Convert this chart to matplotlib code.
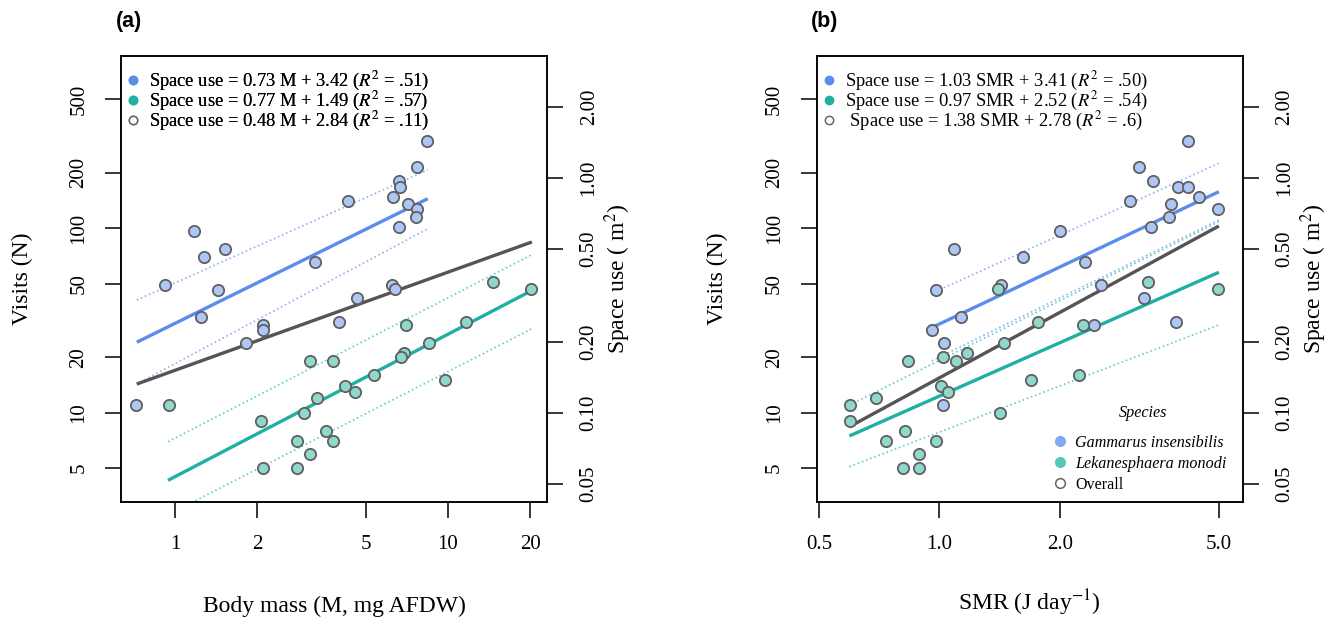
import matplotlib
matplotlib.use('Agg')
import matplotlib.pyplot as plt
from matplotlib.lines import Line2D

plt.rcParams['font.family'] = ['Liberation Serif', 'DejaVu Serif']
plt.rcParams['mathtext.fontset'] = 'stix'

# ---- datos ----
# (a) masa corporal vs visitas
mass_gam = [1.17, 1.27, 1.52, 0.92, 1.43, 1.24, 3.25, 2.10, 2.09, 1.82, 0.72, 8.38, 7.72,
            6.60, 6.65, 4.29, 6.27, 7.14, 7.72, 7.65, 6.63, 6.22, 6.38, 4.65, 3.98]
visits_gam_a = [97, 70, 77, 49, 46, 33, 66, 30, 28, 24, 11, 296, 215,
                181, 167, 140, 148, 136, 127, 115, 101, 49, 47, 42, 31]
mass_lek = [0.95, 3.13, 3.79, 3.31, 2.96, 2.06, 3.58, 2.79, 3.79, 3.12, 2.10, 2.80,
            14.6, 20.2, 11.6, 7.03, 8.52, 6.88, 6.71, 5.35, 4.18, 4.56, 9.75]
visits_lek_a = [11, 19, 19, 12, 10, 9, 8, 7, 7, 6, 5, 5,
                51, 47, 31, 30, 24, 21, 20, 16, 14, 13, 15]

# (b) SMR vs visitas
smr_gam = [1.09, 1.62, 0.98, 1.13, 0.96, 1.03, 1.02, 1.43, 4.18, 3.15, 3.43, 3.95, 4.19,
           2.99, 3.79, 4.47, 4.98, 3.76, 3.38, 2.00, 2.32, 2.54, 3.25, 2.44, 3.91]
visits_gam_b = [77, 70, 46, 33, 28, 24, 11, 49, 296, 215, 181, 167, 167,
                140, 136, 148, 127, 115, 101, 97, 66, 49, 42, 30, 31]
smr_lek = [1.40, 1.45, 0.835, 1.02, 1.10, 1.17, 1.01, 1.05, 0.695, 0.599, 0.597, 0.822,
           0.735, 0.983, 0.888, 0.813, 0.888, 1.42, 3.33, 4.97, 1.77, 2.29, 1.70, 2.23]
visits_lek_b = [47, 24, 19, 20, 19, 21, 14, 13, 12, 11, 9, 8,
                7, 7, 6, 5, 5, 10, 51, 47, 31, 30, 15, 16]

# rectas de regresión e intervalos (extremos)
fit_a_gam_x = [0.722, 8.43]
fit_a_gam_y = [24.1, 144.5]
ci_a_gam_hi = [40.8, 207]
ci_a_gam_lo = [14.3, 99.3]
fit_a_lek_x = [0.94, 20.2]
fit_a_lek_y = [4.30, 45.8]
ci_a_lek_hi = [6.96, 71.6]
ci_a_lek_lo = [2.80, 28.4]
fit_a_all_x = [0.722, 20.3]
fit_a_all_y = [14.3, 84.2]

fit_b_gam_x = [0.957, 5.0]
fit_b_gam_y = [28.9, 157.7]
ci_b_gam_hi = [44.4, 225]
ci_b_gam_lo = [19.1, 110.8]
fit_b_lek_x = [0.596, 5.0]
fit_b_lek_y = [7.48, 57.7]
ci_b_lek_hi = [11.0, 108.4]
ci_b_lek_lo = [5.10, 29.9]
fit_b_all_x = [0.596, 5.0]
fit_b_all_y = [8.39, 102.8]

visit_ticks = [5, 10, 20, 50, 100, 200, 500]
space_ticks = [0.05, 0.10, 0.20, 0.50, 1.00, 2.00]
space_labels = ['0.05', '0.10', '0.20', '0.50', '1.00', '2.00']
mass_ticks = [1, 2, 5, 10, 20]
smr_ticks = [0.5, 1.0, 2.0, 5.0]

eq_a = [r'Space use = 0.73 M + 3.42 ($R^2$ = .51)',
        r'Space use = 0.77 M + 1.49 ($R^2$ = .57)',
        r'Space use = 0.48 M + 2.84 ($R^2$ = .11)']
eq_b = [r'Space use = 1.03 SMR + 3.41 ($R^2$ = .50)',
        r'Space use = 0.97 SMR + 2.52 ($R^2$ = .54)',
        r' Space use = 1.38 SMR + 2.78 ($R^2$ = .6)']

# colores
c_gam = '#5b8def'
c_lek = '#1fb0a3'
c_all = '#555555'
f_gam = '#aec6f5'
f_lek = '#8fd8cc'
ci_gam = '#8fb2f2'
ci_lek = '#62cfc6'

W, H = 1343, 618
fig = plt.figure(figsize=(W / 100, H / 100), dpi=100)


def px(x0, y0, w, h):
    return [x0 / W, 1 - (y0 + h) / H, w / W, h / H]


ax_a = fig.add_axes(px(121, 55.7, 426, 446.6))
ax_b = fig.add_axes(px(816.7, 55.7, 426, 446.6))


def dibujar(ax, xg, yg, xl, yl, fg, ci_g, fl, ci_l, fa, xlim, xticks, xlabels):
    ax.set_xscale('log')
    ax.set_yscale('log')
    # intervalos
    ax.plot(fg[0], ci_g[0], ls=':', lw=1.2, color=ci_gam, zorder=1)
    ax.plot(fg[0], ci_g[1], ls=':', lw=1.2, color=ci_gam, zorder=1)
    ax.plot(fl[0], ci_l[0], ls=':', lw=1.2, color=ci_lek, zorder=1)
    ax.plot(fl[0], ci_l[1], ls=':', lw=1.2, color=ci_lek, zorder=1)
    # rectas
    ax.plot(fg[0], fg[1], color=c_gam, lw=2.4, zorder=2, solid_capstyle='butt')
    ax.plot(fl[0], fl[1], color=c_lek, lw=2.4, zorder=2, solid_capstyle='butt')
    ax.plot(fa[0], fa[1], color=c_all, lw=2.4, zorder=2, solid_capstyle='butt')
    # puntos
    ax.scatter(xg, yg, s=66, facecolor=f_gam, edgecolor='#5f5f5f', linewidth=1.3, zorder=3)
    ax.scatter(xl, yl, s=66, facecolor=f_lek, edgecolor='#5f5f5f', linewidth=1.3, zorder=3)

    ax.set_xlim(*xlim)
    ax.set_ylim(3.269, 861)
    ax.set_xticks(xticks, labels=xlabels)
    ax.set_yticks(visit_ticks, labels=[str(v) for v in visit_ticks])
    ax.minorticks_off()
    ax.tick_params(axis='both', length=11.5, width=1.1, pad=12, labelsize=15)
    ax.tick_params(axis='y', labelrotation=90)
    for lab in ax.get_yticklabels():
        lab.set_va('center')
    for sp in ax.spines.values():
        sp.set_linewidth(1.1)

    axr = ax.twinx()
    axr.set_yscale('log')
    axr.set_ylim(0.0417, 3.314)
    axr.set_yticks(space_ticks, labels=space_labels)
    axr.minorticks_off()
    axr.tick_params(axis='y', length=11.5, width=1.1, pad=12, labelsize=15, labelrotation=90)
    for lab in axr.get_yticklabels():
        lab.set_va('center')
    for sp in axr.spines.values():
        sp.set_linewidth(1.1)
    return axr


dibujar(ax_a, mass_gam, visits_gam_a, mass_lek, visits_lek_a,
        (fit_a_gam_x, fit_a_gam_y), (ci_a_gam_hi, ci_a_gam_lo),
        (fit_a_lek_x, fit_a_lek_y), (ci_a_lek_hi, ci_a_lek_lo),
        (fit_a_all_x, fit_a_all_y), (0.632, 23.07), mass_ticks, ['1', '2', '5', '10', '20'])
dibujar(ax_b, smr_gam, visits_gam_b, smr_lek, visits_lek_b,
        (fit_b_gam_x, fit_b_gam_y), (ci_b_gam_hi, ci_b_gam_lo),
        (fit_b_lek_x, fit_b_lek_y), (ci_b_lek_hi, ci_b_lek_lo),
        (fit_b_all_x, fit_b_all_y), (0.4937, 5.735), smr_ticks, ['0.5', '1.0', '2.0', '5.0'])

# leyendas de ecuaciones
def handles(ms):
    return [Line2D([], [], ls='none', marker='o', ms=ms, mfc=c_gam, mec=c_gam),
            Line2D([], [], ls='none', marker='o', ms=ms, mfc=c_lek, mec=c_lek),
            Line2D([], [], ls='none', marker='o', ms=ms, mfc='white', mec='#666666', mew=1.1)]


for ax, eqs in ((ax_a, eq_a), (ax_b, eq_b)):
    leg = ax.legend(handles(6), eqs, loc='upper left', bbox_to_anchor=(0.0073, 0.969),
                    frameon=False, fontsize=13.3, borderpad=0, borderaxespad=0,
                    handlelength=1.0, handletextpad=0.37, labelspacing=-0.15)
    ax.add_artist(leg)

# leyenda de especies
sp_h = [Line2D([], [], ls='none', marker='o', ms=7, mfc='#86a8ee', mec='#86a8ee'),
        Line2D([], [], ls='none', marker='o', ms=7, mfc='#55c6b8', mec='#55c6b8'),
        Line2D([], [], ls='none', marker='o', ms=7, mfc='white', mec='#666666', mew=1.1)]
leg2 = ax_b.legend(sp_h, ['Gammarus insensibilis', 'Lekanesphaera monodi', 'Overall'],
                   loc='upper left', bbox_to_anchor=(0.5515, 0.151), frameon=False,
                   fontsize=11.6, borderpad=0, borderaxespad=0, handlelength=1.0,
                   handletextpad=0.45, labelspacing=0.3)
for t in leg2.get_texts()[:2]:
    t.set_style('italic')
ax_b.text(0.766, 0.200, 'Species', transform=ax_b.transAxes, ha='center', va='center',
          fontsize=11.6, style='italic')

# etiquetas de ejes
for off in (0, 695.7):
    fig.text((22 + off) / W, 1 - 279 / H, 'Visits (N)', rotation=90, ha='center', va='center', fontsize=17)
    fig.text((618 + off) / W, 1 - 279 / H, r'Space use ( m$^2$)', rotation=90, ha='center', va='center', fontsize=17)
fig.text(334 / W, 1 - 606 / H, 'Body mass (M, mg AFDW)', ha='center', va='center', fontsize=17)
fig.text(1029.7 / W, 1 - 603 / H, r'SMR (J day$^{-1}$)', ha='center', va='center', fontsize=17)

fig.text(116 / W, 1 - 21 / H, '(a)', fontweight='bold', family='Liberation Sans', fontsize=15.5, va='center')
fig.text(811 / W, 1 - 21 / H, '(b)', fontweight='bold', family='Liberation Sans', fontsize=15.5, va='center')

fig.savefig('out.png', dpi=100, facecolor='white')
